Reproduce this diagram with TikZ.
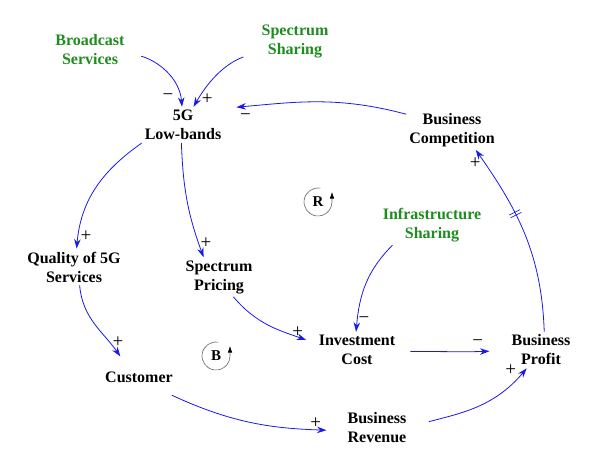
\documentclass[tikz,border=0pt]{standalone}
\usepackage{fontspec}
\setmainfont{Liberation Serif}
\usetikzlibrary{arrows.meta,decorations.markings}
\definecolor{linkblue}{RGB}{25,25,235}
\definecolor{exogreen}{RGB}{30,140,30}
\newcommand{\neglink}{\char"2212}
\tikzset{
  var/.style={
    font=\bfseries\fontsize{16}{19}\selectfont,
    align=center, inner sep=3pt, minimum height=36pt
  },
  exovar/.style={var, text=exogreen},
  arrow/.style={-{Stealth[length=9.5pt,width=6.5pt]}, draw=linkblue, line width=0.8pt},
  sign/.style={font=\fontsize{19}{21}\selectfont, text=black, inner sep=0pt},
  loopsym/.style={font=\bfseries\fontsize{15}{17}\selectfont, inner sep=1pt},
  loopline/.style={draw=black!60, line width=0.6pt,
    -{Latex[length=6.5pt,width=4.5pt,color=black]}},
  delaymark/.style={postaction={decorate}, decoration={markings,
    mark=at position #1 with {\draw[-, draw=linkblue, line width=0.7pt]
      (-1.5pt,-6pt) -- (-1.5pt,6pt) (1.5pt,-6pt) -- (1.5pt,6pt);}}}
}
\begin{document}
\begin{tikzpicture}[x=1pt, y=1pt]
  \useasboundingbox (0,0) rectangle (591,-465);

  \node[exovar] (bs) at (90,-50) {Broadcast\\Services};
  \node[exovar] (ss) at (295,-41) {Spectrum\\Sharing};
  \node[var] (lb) at (183,-125) {5G\\Low-bands};
  \node[var] (bc) at (452,-130) {Business\\Competition};
  \node[exovar] (is) at (432,-225) {Infrastructure\\Sharing};
  \node[var] (qs) at (74,-267) {Quality of 5G\\Services};
  \node[var] (sp) at (219,-277) {Spectrum\\Pricing};
  \node[var] (ic) at (357,-350) {Investment\\Cost};
  \node[var] (bp) at (541,-350) {Business\\Profit};
  \node[var] (cu) at (139,-377) {Customer};
  \node[var] (br) at (377,-428) {Business\\Revenue};

  \node[loopsym] (rl) at (318,-202) {R};
  \node[loopsym] (bl) at (216,-356) {B};
  \draw[loopline] ([shift={(80:14)}]rl.center) arc[start angle=80, end angle=360, radius=14] -- ++(0,10);
  \draw[loopline] ([shift={(80:14)}]bl.center) arc[start angle=80, end angle=360, radius=14] -- ++(0,10);

  \draw[arrow, shorten <=14pt] (bs.-4) to[out=-15, in=95]
    node[sign, pos=1, xshift=-14pt, yshift=10pt] {\neglink} (lb.93);
  \draw[arrow, shorten <=16pt] (ss.196) to[out=200, in=60]
    node[sign, pos=1, xshift=13.6pt, yshift=8pt] {+} (lb.60);
  \draw[arrow, shorten >=12pt] (bc.161) to[out=165, in=5]
    node[sign, pos=1, xshift=21pt, yshift=-8.6pt] {\neglink} (lb.22);
  \draw[arrow] (lb.south west) to[out=215, in=85]
    node[sign, pos=1, xshift=9.5pt, yshift=12pt] {+} (qs.82);
  \draw[arrow] (lb.-95) to[out=-88, in=110]
    node[sign, pos=1, xshift=2.4pt, yshift=14pt] {+} (sp.128);
  \draw[arrow, shorten >=10pt] (sp.-54) to[out=-50, in=160]
    node[sign, pos=1, xshift=-17.8pt, yshift=11.5pt] {+} (ic.171);
  \draw[arrow, shorten >=3pt] (qs.-73) to[out=-85, in=125]
    node[sign, pos=1, xshift=-4pt, yshift=17pt] {+} (cu.133);
  \draw[arrow] (is.207) to[out=225, in=85]
    node[sign, pos=1, xshift=8pt, yshift=12pt] {\neglink} (ic.93);
  \draw[arrow, shorten <=12pt, shorten >=19pt] (ic.-2) to[out=0, in=182]
    node[sign, pos=1, xshift=-30.7pt, yshift=7.6pt] {\neglink} (bp.181);
  \draw[arrow, delaymark=0.62] (bp.80) to[out=92, in=-55]
    node[sign, pos=1, xshift=-0.5pt, yshift=-13pt] {+} (bc.-40);
  \draw[arrow, shorten >=18pt] (cu.-29) to[out=-25, in=178]
    node[sign, pos=1, xshift=-28.8pt, yshift=7.8pt] {+} (br.185);
  \draw[arrow, shorten <=20pt] (br.2) to[out=15, in=230]
    node[sign, pos=1, xshift=-16pt, yshift=-2pt] {+} (bp.232);
\end{tikzpicture}
\end{document}
